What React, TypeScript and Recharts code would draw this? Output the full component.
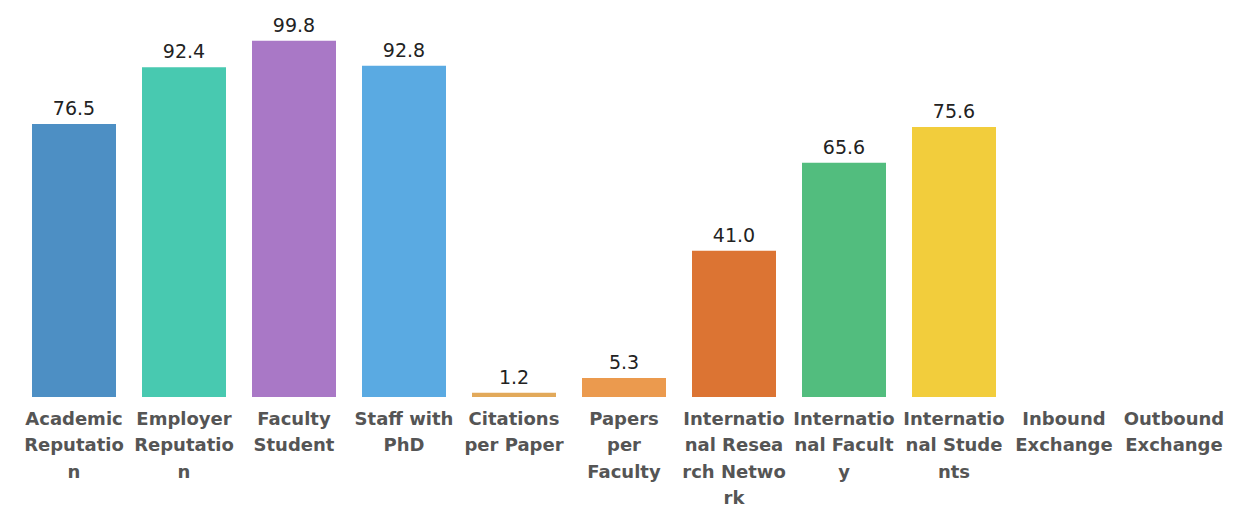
import { BarChart, Bar, XAxis, YAxis, Cell, LabelList } from "recharts";

const categories = [
  "Academic\nReputatio\nn",
  "Employer\nReputatio\nn",
  "Faculty\nStudent",
  "Staff with\nPhD",
  "Citations\nper Paper",
  "Papers\nper\nFaculty",
  "Internatio\nnal Resea\nrch Netwo\nrk",
  "Internatio\nnal Facult\ny",
  "Internatio\nnal Stude\nnts",
  "Inbound\nExchange",
  "Outbound\nExchange",
];

const scores: (number | null)[] = [76.5, 92.4, 99.8, 92.8, 1.2, 5.3, 41.0, 65.6, 75.6, null, null];

const colors = [
  "#4d8fc4",
  "#48c9b0",
  "#a978c6",
  "#5aaae2",
  "#e2a95a",
  "#eb9a4e",
  "#dc7433",
  "#52bd7e",
  "#f2cd3c",
  "#cccccc",
  "#cccccc",
];

const data = categories.map((name, i) => ({ name, score: scores[i] }));

const CategoryTick = (props: any) => {
  const { x, y, payload } = props;
  const lines = String(payload.value).split("\n");
  return (
    <text
      x={x}
      y={y}
      textAnchor="middle"
      fill="#555555"
      fontFamily="DejaVu Sans"
      fontWeight="bold"
      fontSize={18}
    >
      {lines.map((line, i) => (
        <tspan key={i} x={x} dy={i === 0 ? 20 : 26.3}>
          {line}
        </tspan>
      ))}
    </text>
  );
};

export default function App() {
  return (
    <div style={{ position: "absolute", left: 0, top: 0, width: 1248, height: 509, background: "#fff" }}>
      <BarChart
        width={1248}
        height={509}
        data={data}
        margin={{ top: 40, right: 19, bottom: 0, left: 19 }}
        barCategoryGap={13}
      >
        <XAxis
          dataKey="name"
          interval={0}
          axisLine={false}
          tickLine={false}
          height={112}
          tick={<CategoryTick />}
        />
        <YAxis hide domain={[0, 100]} />
        <Bar dataKey="score" isAnimationActive={false}>
          {data.map((d, i) => (
            <Cell key={d.name} fill={colors[i]} />
          ))}
          <LabelList
            dataKey="score"
            position="top"
            offset={9}
            fill="#222222"
            fontFamily="DejaVu Sans"
            fontSize={19}
            formatter={(v: any) => (v == null ? "" : Number(v).toFixed(1))}
          />
        </Bar>
      </BarChart>
    </div>
  );
}
